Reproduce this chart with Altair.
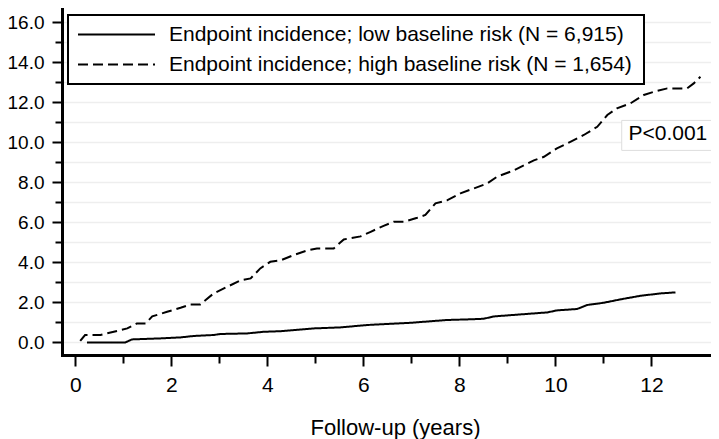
import altair as alt
import pandas as pd

LOW = "Endpoint incidence; low baseline risk (N = 6,915)"
HIGH = "Endpoint incidence; high baseline risk (N = 1,654)"

# High baseline risk (dashed) – cumulative incidence (%)
high_t = [0.10, 0.20, 0.52, 1.08, 1.28, 1.46, 1.60, 1.91, 2.19, 2.40, 2.60, 2.88, 3.16,
          3.44, 3.65, 3.85, 4.06, 4.27, 4.55, 4.83, 5.03, 5.38, 5.59, 5.94, 6.15, 6.42,
          6.63, 6.84, 7.12, 7.29, 7.50, 7.74, 8.02, 8.30, 8.58, 8.78, 9.13, 9.55, 9.76,
          10.03, 10.31, 10.59, 10.87, 11.08, 11.28, 11.56, 11.84, 12.05, 12.33, 12.74,
          12.88, 13.02]
high_v = [0.08, 0.37, 0.37, 0.70, 0.95, 0.95, 1.30, 1.53, 1.73, 1.90, 1.90, 2.45, 2.78,
          3.10, 3.20, 3.70, 4.03, 4.10, 4.37, 4.60, 4.70, 4.70, 5.15, 5.30, 5.53, 5.83,
          6.03, 6.03, 6.23, 6.37, 6.95, 7.10, 7.45, 7.70, 7.95, 8.28, 8.60, 9.10, 9.28,
          9.70, 10.03, 10.37, 10.78, 11.37, 11.70, 11.95, 12.37, 12.53, 12.70, 12.70,
          12.95, 13.28]

# Low baseline risk (solid)
low_t = [0.24, 1.04, 1.18, 1.77, 2.19, 2.46, 2.88, 3.02, 3.58, 3.92, 4.27, 4.97, 5.52,
         6.08, 6.98, 7.74, 8.16, 8.50, 8.72, 9.83, 10.03, 10.45, 10.66, 11.00, 11.35,
         11.77, 12.19, 12.50]
low_v = [0.00, 0.00, 0.15, 0.20, 0.25, 0.32, 0.37, 0.42, 0.45, 0.53, 0.56, 0.70, 0.75,
         0.87, 0.98, 1.12, 1.15, 1.18, 1.30, 1.50, 1.60, 1.67, 1.87, 1.98, 2.15,
         2.33, 2.45, 2.50]

x_ticks = list(range(0, 13))
y_ticks = list(range(0, 17))

p_text = ["P<0.001"]
p_x = [11.52]
p_y = [10.4]
p_box_x = [11.38, 13.6]
p_box_y = [9.6, 11.1]

FONT = "Liberation Sans"

df = pd.DataFrame(
    {"t": low_t + high_t,
     "v": low_v + high_v,
     "series": [LOW] * len(low_t) + [HIGH] * len(high_t)}
)
df_p = pd.DataFrame({"x": p_x, "y": p_y, "label": p_text})
df_box = pd.DataFrame({"x1": [p_box_x[0]], "x2": [p_box_x[1]],
                       "y1": [p_box_y[0]], "y2": [p_box_y[1]]})

x_scale = alt.Scale(domain=[-0.28, 13.24], nice=False, zero=False)
y_scale = alt.Scale(domain=[-0.63, 16.72], nice=False, zero=False)

x_axis = alt.Axis(
    title="Follow-up (years)", values=x_ticks, format="d",
    labelExpr="datum.value % 2 === 0 ? datum.label : ''",
    grid=False, labelFontSize=21,
    tickSize={"condition": {"test": "datum.value % 2 === 0", "value": 11}, "value": 8},
    labelPadding=8, titleFontSize=22, titleFont=FONT, titleFontWeight="normal",
    titleBaseline="alphabetic", titleY=79, titleX=333,
)
y_axis = alt.Axis(
    title=None, values=y_ticks, format=".1f",
    labelExpr="datum.value % 2 === 0 ? datum.label : ''",
    grid=True, gridColor="#eeeeee", gridWidth=1.5, labelFontSize=19,
    tickSize={"condition": {"test": "datum.value % 2 === 0", "value": 10}, "value": 7},
    labelPadding=8,
)

X = lambda f: alt.X(f, scale=x_scale, axis=x_axis)
Y = lambda f: alt.Y(f, scale=y_scale, axis=y_axis)

lines = alt.Chart(df).mark_line(strokeWidth=2, color="black", clip=True).encode(
    x=X("t:Q"),
    y=Y("v:Q"),
    strokeDash=alt.StrokeDash(
        "series:N",
        scale=alt.Scale(domain=[LOW, HIGH], range=[[1, 0], [10, 5]]),
        legend=alt.Legend(
            title=" ", orient="none", legendX=6, legendY=7,
            titleOrient="right", titlePadding=3, titleFontSize=1,
            labelFont=FONT, labelFontSize=21, labelLimit=1000, labelOffset=13,
            labelColor="black", clipHeight=21,
            symbolType="stroke", symbolSize=5929, symbolStrokeWidth=2,
            symbolStrokeColor="black",
            rowPadding=8, padding=9, strokeColor="black", fillColor="white",
        ),
    ),
)

box = alt.Chart(df_box).mark_rect(fill="white", stroke="#dddddd", strokeWidth=1,
                                  clip=True).encode(
    x=X("x1:Q"), x2="x2:Q", y=Y("y1:Q"), y2="y2:Q"
)

ptext = alt.Chart(df_p).mark_text(align="left", baseline="middle", fontSize=21,
                                  font=FONT, color="black").encode(
    x=X("x:Q"), y=Y("y:Q"), text="label:N"
)

chart = alt.layer(box, lines, ptext).properties(
    width=649, height=347,
    autosize=alt.AutoSizeParams(type="none"),
    padding={"left": 54, "top": 0, "right": 0, "bottom": 84},
).configure_view(stroke=None).configure_axis(
    domainColor="black", domainWidth=3, domainCap="square",
    tickColor="black", tickWidth=2,
    labelFont=FONT, labelFontSize=20, labelColor="black", titleColor="black",
).configure_legend(strokeWidth=2)

chart.save("out.html", embed_options={"renderer": "svg", "actions": False})
